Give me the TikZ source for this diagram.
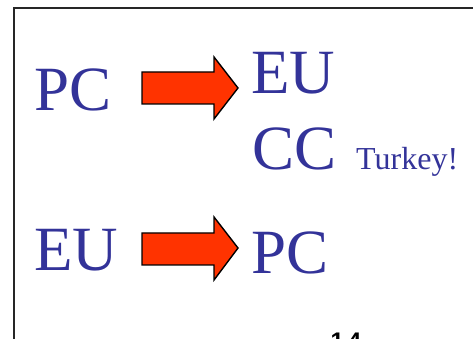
\documentclass[tikz,border=0pt]{standalone}
\usepackage{fontspec}
\setmainfont{Liberation Serif}
\newfontfamily\digitfont{Liberation Sans}
\definecolor{slideblue}{HTML}{333399}
\definecolor{arrowred}{HTML}{FF3300}
\begin{document}
\begin{tikzpicture}[x=1pt,y=1pt,
  bigtxt/.style={inner sep=0pt,anchor=base west,text=slideblue,font=\fontsize{63}{63}\selectfont},
  smalltxt/.style={inner sep=0pt,anchor=base west,text=slideblue,font=\fontsize{32}{32}\selectfont},
  blockarrow/.style={fill=arrowred,draw=black,line width=1.4pt,line join=miter}]
\useasboundingbox (0,0) rectangle (473,339);
\begin{scope}
\clip (0,0) rectangle (473,339);
\draw[line width=1.8pt,black!85] (14,-20) -- (14,331) -- (500,331);
\node[inner sep=0pt,anchor=north,font=\digitfont\bfseries\fontsize{24}{24}\selectfont] (pg) at (346,6) {1\,4};
\end{scope}
% left texts
\node[bigtxt] (pc1) at (34,228) {PC};
\node[bigtxt] (eu2) at (34,68) {EU};
% right texts
\node[bigtxt] (eu1) at (251,245) {EU};
\node[bigtxt] (cc1) at (252,169) {CC};
\node[smalltxt] (tk) at (356,169) {Turkey!};
\node[bigtxt] (pc2) at (251,65) {PC};
% arrows
\coordinate (a1) at (142,235);
\coordinate (a2) at (142,74);
\draw[blockarrow] (a1) -- ++(72,0) -- ++(0,-15) -- ++(24,31) -- ++(-24,31) -- ++(0,-15) -- ++(-72,0) -- cycle;
\draw[blockarrow] (a2) -- ++(72,0) -- ++(0,-15) -- ++(24,32) -- ++(-24,31) -- ++(0,-16) -- ++(-72,0) -- cycle;
\end{tikzpicture}
\end{document}
